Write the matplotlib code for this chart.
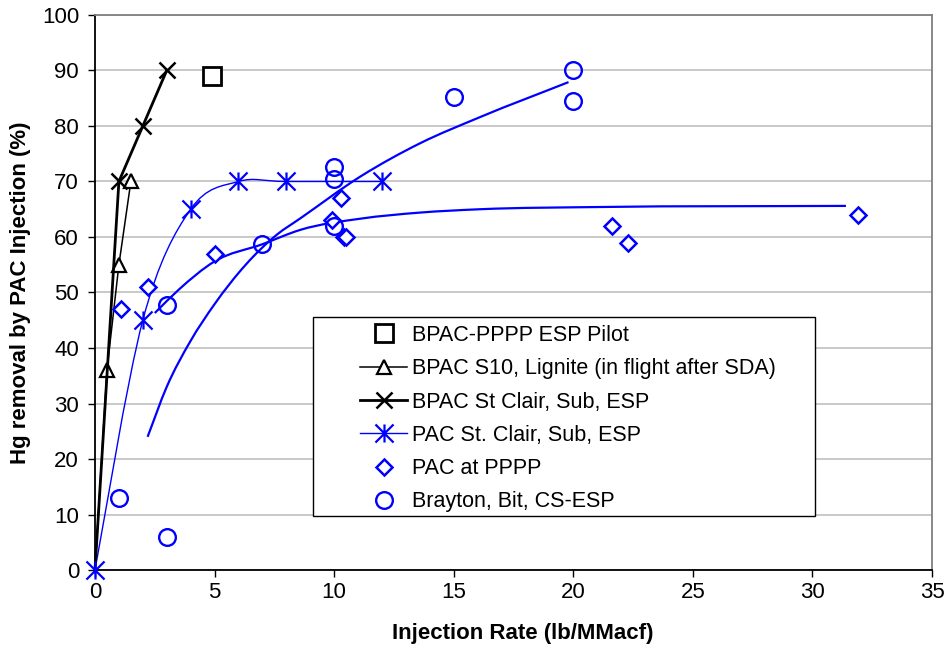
import numpy as np
import matplotlib
matplotlib.use("Agg")
import matplotlib.pyplot as plt
from matplotlib.path import Path
from matplotlib.patches import PathPatch, Rectangle

plt.rcParams['font.family'] = ['Liberation Sans', 'DejaVu Sans']

# ===== data =====
pilot_x = [4.9]
pilot_y = [89]

lignite_x = [0, 0.5, 1.0, 1.5]
lignite_y = [0, 36, 55, 70]

bpac_stclair_x = [0, 1, 2, 3]
bpac_stclair_y = [0, 70, 80, 90]

pac_stclair_x = [0, 2, 4, 6, 8, 12]
pac_stclair_y = [0, 45, 65, 70, 70, 70]

pppp_x = [1.1, 2.2, 5.0, 9.9, 10.3, 10.4, 10.5, 21.6, 22.3, 31.9]
pppp_y = [47, 51, 57, 63, 67, 60, 60, 62, 59, 64]

brayton_x = [1, 3, 3, 7, 10, 10, 10, 15, 20, 20]
brayton_y = [13, 6, 47.7, 58.7, 72.6, 70.5, 62, 85.2, 90.1, 84.5]

# trend lines
pppp_trend_x = [2.5, 3.5, 5.0, 7.0, 8.6, 11.1, 13.6, 16.1, 21.1, 31.4]
pppp_trend_y = [46.3, 50.5, 55.6, 58.7, 61.3, 63.3, 64.4, 65.0, 65.4, 65.6]

brayton_trend_x = [2.2, 3.0, 4.0, 5.0, 7.6, 8.6, 11.1, 13.6, 16.1, 19.8]
brayton_trend_y = [24, 33, 41.3, 47.9, 60.4, 63.4, 70.9, 76.9, 81.6, 87.9]

labels = ["BPAC-PPPP ESP Pilot",
          "BPAC S10, Lignite (in flight after SDA)",
          "BPAC St Clair, Sub, ESP",
          "PAC St. Clair, Sub, ESP",
          "PAC at PPPP",
          "Brayton, Bit, CS-ESP"]

BLUE = '#0000FF'


def smooth_path(xs, ys):
    # Excel style smoothed line: cubic bezier segments (catmull-rom handles)
    p = np.column_stack([xs, ys]).astype(float)
    ext = np.vstack([p[0], p, p[-1]])
    verts = [tuple(p[0])]
    codes = [Path.MOVETO]
    for i in range(len(p) - 1):
        p0, p1, p2, p3 = ext[i], ext[i + 1], ext[i + 2], ext[i + 3]
        c1 = p1 + (p2 - p0) / 6.0
        c2 = p2 - (p3 - p1) / 6.0
        verts += [tuple(c1), tuple(c2), tuple(p2)]
        codes += [Path.CURVE4] * 3
    return Path(verts, codes)


def trend_path(xs, ys):
    # y(x) curve as hermite segments, tangents from weighted finite differences
    x = np.asarray(xs, float)
    y = np.asarray(ys, float)
    h = np.diff(x)
    d = np.diff(y) / h
    m = np.empty_like(y)
    m[0], m[-1] = d[0], d[-1]
    m[1:-1] = (d[1:] * h[:-1] + d[:-1] * h[1:]) / (h[:-1] + h[1:])
    verts = [(x[0], y[0])]
    codes = [Path.MOVETO]
    for i in range(len(x) - 1):
        verts += [(x[i] + h[i] / 3, y[i] + m[i] * h[i] / 3),
                  (x[i + 1] - h[i] / 3, y[i + 1] - m[i + 1] * h[i] / 3),
                  (x[i + 1], y[i + 1])]
        codes += [Path.CURVE4] * 3
    return Path(verts, codes)


# asterisk marker: vertical bar plus an X
star = Path([(0, -1), (0, 1), (-1, -1), (1, 1), (-1, 1), (1, -1)],
            [Path.MOVETO, Path.LINETO] * 3)

fig = plt.figure(figsize=(9.47, 6.51), dpi=100)
ax = fig.add_axes([0.1003, 0.1244, 0.8839, 0.8526])

ax.set_xlim(0, 35)
ax.set_ylim(0, 100)
ax.set_xticks(np.arange(0, 36, 5))
ax.set_yticks(np.arange(0, 101, 10))
ax.yaxis.grid(True, color='#c0c0c0', lw=1.2)
ax.set_axisbelow(True)

# trend lines
for tx, ty in [(pppp_trend_x, pppp_trend_y), (brayton_trend_x, brayton_trend_y)]:
    ax.add_patch(PathPatch(trend_path(tx, ty), fill=False, ec=BLUE, lw=1.6, zorder=2))

# smoothed line for PAC St. Clair
ax.add_patch(PathPatch(smooth_path(pac_stclair_x, pac_stclair_y), fill=False,
                       ec=BLUE, lw=1.0, zorder=2))

h1, = ax.plot(pilot_x, pilot_y, ls='none', marker='s', ms=12.5, mfc='white',
              mec='black', mew=2, zorder=3, label=labels[0])
h2, = ax.plot(lignite_x, lignite_y, color='black', lw=1.1, marker='^', ms=9.5,
              mfc='white', mec='black', mew=1.6, markevery=[1, 2, 3], zorder=3,
              label=labels[1])
h3, = ax.plot(bpac_stclair_x, bpac_stclair_y, color='black', lw=2, marker='x',
              ms=12, mew=1.8, markevery=[1, 2, 3], zorder=3, label=labels[2])
h4, = ax.plot(pac_stclair_x, pac_stclair_y, ls='none', marker=star, ms=13,
              mec=BLUE, mfc=BLUE, mew=1.6, zorder=4, label=labels[3])
h5, = ax.plot(pppp_x, pppp_y, ls='none', marker='D', ms=8, mfc='white',
              mec=BLUE, mew=1.8, zorder=3, label=labels[4])
h6, = ax.plot(brayton_x, brayton_y, ls='none', marker='o', ms=12, mfc='none',
              mec=BLUE, mew=1.7, zorder=3, label=labels[5])

# legend proxy for the asterisk series (line + marker)
h4l, = ax.plot([], [], color=BLUE, lw=1.0, marker=star, ms=13, mec=BLUE, mew=1.6)

ax.add_patch(Rectangle((0.2604, 0.0973), 0.5998, 0.3586, transform=ax.transAxes,
                       fc='white', ec='black', lw=1.0, zorder=5))
leg = ax.legend([h1, h2, h3, h4l, h5, h6], labels, frameon=False, loc='upper left',
                bbox_to_anchor=(0.3166, 0.4415), borderpad=0, borderaxespad=0,
                handlelength=2.2, handletextpad=0.23, labelspacing=0.57,
                fontsize=15.5)
leg.set_zorder(6)

for s in ['left', 'bottom']:
    ax.spines[s].set_color('black')
    ax.spines[s].set_linewidth(1.3)
for s in ['top', 'right']:
    ax.spines[s].set_color('#808080')
    ax.spines[s].set_linewidth(1.3)

ax.tick_params(direction='out', length=5, width=1, labelsize=16, colors='black')
ax.tick_params(axis='y', pad=6.5)
ax.set_xlabel("Injection Rate (lb/MMacf)", fontsize=16, fontweight='bold', labelpad=15)
ax.set_ylabel("Hg removal by PAC Injection (%)", fontsize=16, fontweight='bold', labelpad=8)
ax.xaxis.set_label_coords(0.5108, -0.095)

for l in ax.lines + ax.patches:
    l.set_clip_on(False)

fig.savefig("out.png", dpi=100)
